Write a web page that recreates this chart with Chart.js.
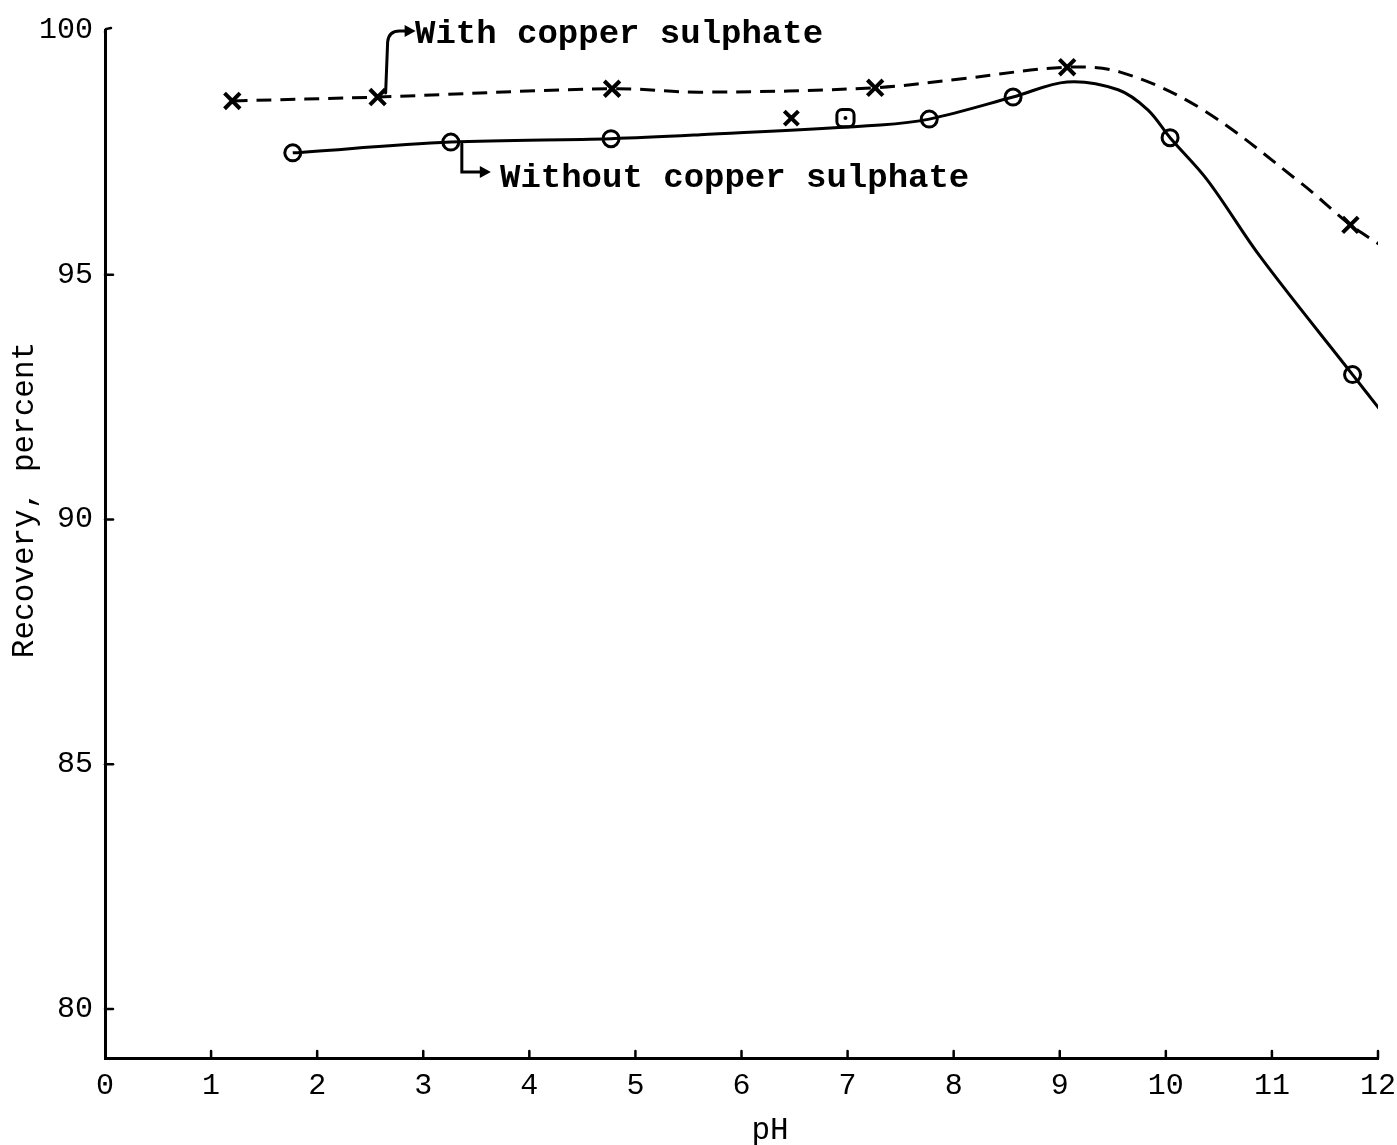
<!DOCTYPE html>
<html>
<head>
<meta charset="utf-8">
<script src="https://cdn.jsdelivr.net/npm/chart.js@4/dist/chart.umd.min.js"></script>
<style>
html,body{margin:0;padding:0;background:#fff;}
#wrap{width:1397px;height:1145px;position:relative;}
</style>
</head>
<body>
<div id="wrap"><canvas id="c"></canvas></div>
<script>
// ---- data ----
const xTicks = [0,1,2,3,4,5,6,7,8,9,10,11,12];
const yTicks = [80,85,90,95,100];

// With copper sulphate: measured points (x markers)
const phWith  = [1.20, 2.57, 4.78, 7.26, 9.07, 11.74];
const recWith = [98.55, 98.63, 98.80, 98.82, 99.24, 96.02];
// isolated x marker
const phWithExtra  = [6.47];
const recWithExtra = [98.20];
// hand-drawn dashed curve
const phCurveWith  = [1.20, 2.57, 4.78, 5.61, 7.26, 8.06, 9.07, 9.57, 10.32, 11.27, 11.74, 12.02];
const recCurveWith = [98.55, 98.63, 98.80, 98.73, 98.82, 99.00, 99.24, 99.14, 98.41, 96.88, 96.02, 95.61];

// Without copper sulphate: measured points (circles)
const phWithout  = [1.77, 3.26, 4.77, 7.77, 8.56, 10.04, 11.76];
const recWithout = [97.49, 97.71, 97.78, 98.18, 98.63, 97.80, 92.96];
// isolated square marker
const phWithoutExtra  = [6.98];
const recWithoutExtra = [98.20];
// hand-drawn solid curve
const phCurveWithout  = [1.77, 3.26, 4.77, 5.61, 7.31, 7.77, 8.56, 9.07, 9.55, 9.83, 10.04, 10.39, 10.89, 11.76, 12.02];
const recCurveWithout = [97.49, 97.71, 97.78, 97.86, 98.06, 98.18, 98.63, 98.94, 98.78, 98.37, 97.80, 96.94, 95.37, 92.96, 92.24];

const labelWith = 'With copper sulphate';
const labelWithout = 'Without copper sulphate';
const xTitle = 'pH';
const yTitle = 'Recovery, percent';

const zip = (xs, ys) => xs.map((x, i) => ({x: x, y: ys[i]}));
const FONT = '"Liberation Mono", "DejaVu Sans Mono", monospace';

const decor = {
  id: 'decor',
  afterDraw(chart) {
    const ctx = chart.ctx;
    const xs = chart.scales.x, ys = chart.scales.y;
    const ca = chart.chartArea;
    ctx.save();
    ctx.strokeStyle = '#000';
    ctx.fillStyle = '#000';
    ctx.lineWidth = 2.5;
    ctx.lineCap = 'round';
    // inward ticks
    yTicks.forEach(v => {
      if (v === 100) return;
      const py = ys.getPixelForValue(v);
      ctx.beginPath(); ctx.moveTo(ca.left, py); ctx.lineTo(ca.left + 8, py); ctx.stroke();
    });
    // small hook at top
    ctx.beginPath();
    ctx.moveTo(ca.left, ys.getPixelForValue(100) + 2);
    ctx.lineTo(ca.left + 1, ys.getPixelForValue(100) - 1);
    ctx.lineTo(ca.left + 6, ys.getPixelForValue(100) - 2);
    ctx.stroke();
    xTicks.forEach(v => {
      if (v === 0) return;
      const px = xs.getPixelForValue(v);
      ctx.beginPath(); ctx.moveTo(px, ca.bottom); ctx.lineTo(px, ca.bottom - 7); ctx.stroke();
    });

    // axis titles
    ctx.font = '31px ' + FONT;
    ctx.textAlign = 'center';
    ctx.textBaseline = 'middle';
    ctx.fillText(xTitle, 770, 1131);
    ctx.save();
    ctx.translate(25, 500);
    ctx.rotate(-Math.PI / 2);
    ctx.fillText(yTitle, 0, 0);
    ctx.restore();

    // annotations with arrows
    ctx.lineWidth = 3;
    ctx.font = 'bold 34px ' + FONT;
    ctx.textAlign = 'left';
    ctx.textBaseline = 'alphabetic';
    // With copper sulphate: from 2nd x marker up
    const ax = xs.getPixelForValue(phWith[1]) + 8;
    const ay = ys.getPixelForValue(recWith[1]) - 4;
    ctx.beginPath();
    ctx.moveTo(ax, ay);
    ctx.lineTo(ax + 2, 42);
    ctx.quadraticCurveTo(ax + 3, 31, ax + 14, 31);
    ctx.lineTo(ax + 22, 31);
    ctx.stroke();
    ctx.beginPath();
    ctx.moveTo(ax + 30, 31); ctx.lineTo(ax + 19, 25); ctx.lineTo(ax + 19, 37); ctx.closePath(); ctx.fill();
    ctx.fillText(labelWith, 415, 43);

    // Without copper sulphate: from 2nd circle down
    const bx = xs.getPixelForValue(phWithout[1]) + 11;
    const by = ys.getPixelForValue(recWithout[1]) + 2;
    ctx.beginPath();
    ctx.moveTo(bx, by);
    ctx.lineTo(bx, 172);
    ctx.lineTo(bx + 20, 172);
    ctx.stroke();
    ctx.beginPath();
    ctx.moveTo(bx + 29, 172); ctx.lineTo(bx + 18, 166); ctx.lineTo(bx + 18, 178); ctx.closePath(); ctx.fill();
    ctx.fillText(labelWithout, 500, 187);

    // dot inside the square marker
    ctx.beginPath();
    ctx.arc(xs.getPixelForValue(phWithoutExtra[0]), ys.getPixelForValue(recWithoutExtra[0]), 2, 0, Math.PI * 2);
    ctx.fill();
    ctx.restore();
  }
};

new Chart(document.getElementById('c'), {
  type: 'scatter',
  data: {
    datasets: [
      {
        label: labelWith + ' (curve)',
        data: zip(phCurveWith, recCurveWith),
        showLine: true, borderColor: '#000', borderWidth: 3, borderDash: [15, 9],
        pointRadius: 0, tension: 0.35, fill: false
      },
      {
        label: labelWithout + ' (curve)',
        data: zip(phCurveWithout, recCurveWithout),
        showLine: true, borderColor: '#000', borderWidth: 3,
        pointRadius: 0, tension: 0.35, fill: false
      },
      {
        label: labelWith,
        data: zip(phWith, recWith),
        showLine: false, pointStyle: 'crossRot', pointRadius: 11,
        pointBorderWidth: 4, borderColor: '#000', backgroundColor: '#000'
      },
      {
        label: labelWith + ' (extra)',
        data: zip(phWithExtra, recWithExtra),
        showLine: false, pointStyle: 'crossRot', pointRadius: 10,
        pointBorderWidth: 4, borderColor: '#000', backgroundColor: '#000'
      },
      {
        label: labelWithout,
        data: zip(phWithout, recWithout),
        showLine: false, pointStyle: 'circle', pointRadius: 8,
        pointBorderWidth: 3, borderColor: '#000', backgroundColor: '#fff'
      },
      {
        label: labelWithout + ' (extra)',
        data: zip(phWithoutExtra, recWithoutExtra),
        showLine: false, pointStyle: 'rectRounded', pointRadius: 10,
        pointBorderWidth: 3, borderColor: '#000', backgroundColor: '#fff'
      }
    ]
  },
  options: {
    responsive: true,
    maintainAspectRatio: false,
    animation: false,
    events: [],
    layout: { padding: { top: 30, right: 19, left: 0, bottom: 0 } },
    plugins: { legend: { display: false }, tooltip: { enabled: false } },
    scales: {
      x: {
        type: 'linear', min: 0, max: 12,
        afterFit: s => { s.height = 87; s.paddingLeft = 0; s.paddingRight = 0; },
        afterBuildTicks: s => { s.ticks = xTicks.map(v => ({value: v})); },
        grid: { display: false, drawTicks: false },
        border: { display: true, color: '#000', width: 3 },
        ticks: { color: '#000', padding: 10, font: { family: FONT, size: 30 } }
      },
      y: {
        type: 'linear', min: 79, max: 100,
        afterFit: s => { s.width = 105; s.paddingTop = 0; s.paddingBottom = 0; },
        afterBuildTicks: s => { s.ticks = yTicks.map(v => ({value: v})); },
        grid: { display: false, drawTicks: false },
        border: { display: true, color: '#000', width: 3 },
        ticks: { color: '#000', padding: 12, font: { family: FONT, size: 30 } }
      }
    }
  },
  plugins: [decor]
});
</script>
</body>
</html>
